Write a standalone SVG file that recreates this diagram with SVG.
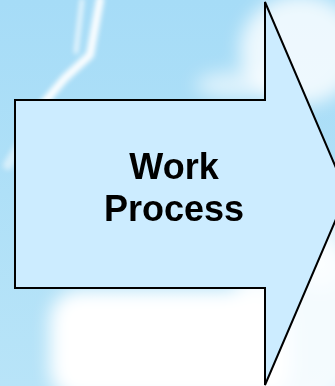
<svg xmlns="http://www.w3.org/2000/svg" width="335" height="386" viewBox="0 0 335 386">
<style>
.arrow{fill:#CCECFF;stroke:#000;stroke-width:2;stroke-linejoin:miter}
.label{font-family:"Liberation Sans",Arial,sans-serif;font-weight:bold;font-size:36px;fill:#000;text-anchor:middle}
</style>
<defs>
<filter id="blur" x="-50%" y="-50%" width="200%" height="200%"><feGaussianBlur stdDeviation="9"/></filter>
<filter id="blur2" x="-50%" y="-50%" width="200%" height="200%"><feGaussianBlur stdDeviation="2.5"/></filter>
<linearGradient id="sky" x1="0" y1="0" x2="0" y2="1">
<stop offset="0" stop-color="#A6DCF7"/>
<stop offset="1" stop-color="#B8E4F8"/>
</linearGradient>
</defs>
<g id="background">
<rect width="335" height="386" fill="url(#sky)"/>
<g filter="url(#blur)" fill="#FFFFFF">
<rect x="50" y="290" width="240" height="110" rx="30"/>
<ellipse cx="300" cy="320" rx="70" ry="90" opacity="0.85"/>
<ellipse cx="300" cy="50" rx="60" ry="55" opacity="0.8"/>
<ellipse cx="240" cy="85" rx="45" ry="14" opacity="0.6"/>
<ellipse cx="320" cy="230" rx="30" ry="60" opacity="0.6"/>
</g>
<g filter="url(#blur2)" fill="none" stroke="#FFFFFF" stroke-linecap="round">
<path d="M100 0 L90 55 L65 78 L42 105" stroke-width="8" opacity="0.95"/>
<path d="M82 0 L76 52" stroke-width="4" opacity="0.85"/>
<path d="M35 120 L8 165" stroke-width="10" opacity="0.5"/>
</g>
</g>
<g id="work-process">
<path class="arrow" d="M15 100 L265 100 L265 2 L347 193.5 L265 385 L265 288 L15 288 Z"/>
<text class="label" x="174" y="179">Work</text>
<text class="label" x="174" y="221">Process</text>
</g>
</svg>
